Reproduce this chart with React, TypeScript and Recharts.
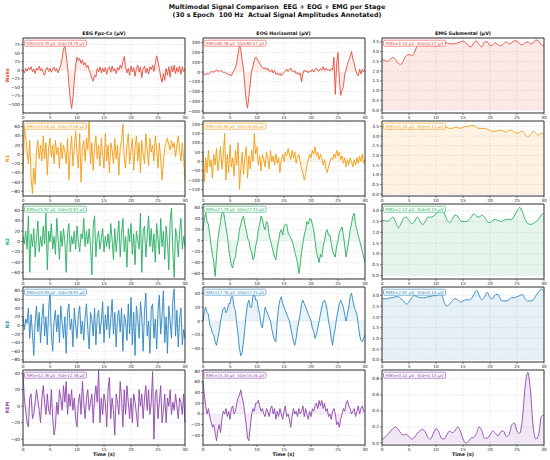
import React from "react"
import { AreaChart, Area, XAxis, YAxis, CartesianGrid, ReferenceArea } from "recharts"

const stages = ["Wake", "N1", "N2", "N3", "REM"]
const channels = ["EEG Fpz-Cz (µV)", "EOG Horizontal (µV)", "EMG Submental (µV)"]
const timeTicks = [0, 5, 10, 15, 20, 25, 30]

// EEG / EOG read every 0.25 s, EMG envelope every 0.5 s
const wakeEeg = [
  0, -8, 5, -3, 8, 2, 10, -5,
  3, -10, 6, 0, 12, -2, 5, -8,
  -15, 2, 8, -4, 6, -6, 3, 9,
  -3, 5, -8, 4, 15, 35, 62, 70,
  45, 10, -40, -85, -112, -80, -30, 15,
  38, 28, 35, 20, 30, 15, 22, 8,
  15, 0, -10, -25, -32, -15, -20, 5,
  -5, 10, -8, 6, -5, 8, -12, 4,
  10, -6, 12, -3, 5, -10, 8, 0,
  15, 5, 25, 40, 10, -8, 5, -15,
  12, -5, 8, -18, 5, 15, -6, 10,
  -22, 4, 12, -8, 6, -12, 10, 2,
  15, -4, 20, 42, 25, 5, -20, -35,
  -10, -30, 5, -15, 10, -20, 12, -5,
  15, -10, 8, -6, 12, -12, 10, -4,
  5,
]
const wakeEog = [
  -10, -25, -30, -15, -25, -10, 5, 0,
  0, 10, 20, 15, 5, 15, 10, -5,
  0, -15, -20, -30, -25, -40, -10, 20,
  40, 100, 180, 280, 230, 120, 30, -150,
  -290, -370, -250, -120, 10, 60, 120, 150,
  140, 110, 90, 60, 50, 30, 45, 20,
  40, 10, 0, 25, -10, 15, -25, -10,
  -35, -15, -40, -20, -5, 10, 30, 5,
  25, 40, 10, 0, 15, -20, -5, -30,
  -10, -100, -20, 20, 0, 15, -10, 10,
  5, 30, 0, 25, 40, 15, 10, 35,
  20, 55, 15, 40, 20, 25, 10, 35,
  20, 150, -230, 90, 200, -80, -240, -190,
  -150, -20, 20, 80, 120, 160, 210, 130,
  90, 20, -20, -40, 30, -20, 30, 0,
  20,
]
const wakeEmg = [
  2.6, 2.55, 2.5, 2.6, 2.7, 2.6, 2.4, 2.35, 2.55, 2.8,
  2.85, 2.8, 2.95, 3.3, 3.4, 3.35, 3.3, 3.3, 3.35, 3.3,
  3.3, 3.3, 3.45, 3.5, 3.45, 3.4, 3.4, 3.4, 3.45, 3.5,
  3.55, 3.45, 3.3, 3.25, 3.45, 3.55, 3.35, 3.25, 3.5, 3.5,
  3.3, 3.35, 3.45, 3.35, 3.3, 3.4, 3.5, 3.4, 3.45, 3.55,
  3.55, 3.4, 3.35, 3.45, 3.5, 3.4, 3.45, 3.6, 3.55, 3.35,
  3.3,
]

const n1Eeg = [
  -40, 60, 35, 10, -20, 30, -50, -85,
  -30, -65, 10, 30, -10, 20, -15, 40,
  -10, 25, -45, 15, 35, -5, 20, -20,
  30, 0, 15, -30, 25, -10, 20, 5,
  -20, 35, -55, 10, 40, -25, 15, 50,
  5, -30, 45, -60, 15, 30, -15, 35,
  10, 80, -20, 25, -35, 15, 40, -10,
  20, -25, 35, 0, -30, 45, -15, 20,
  -40, 25, 10, -20, 35, -10, 20, -45,
  15, 30, 65, -10, -30, 20, 45, -20,
  10, 35, -35, 15, 40, -15, 25, -40,
  30, 0, -20, 45, 10, -25, 35, 5,
  20, -15, 40, 10, -30, 25, -10, -55,
  -20, 15, 25, 35, 20, 10, 30, 15,
  25, -5, 20, 40, 10, -15, 25, -10,
  -55,
]
const n1Eog = [
  50, -110, 20, -60, 60, -30, 10, -90,
  40, -20, 70, -50, 10, 80, -40, 30,
  150, -100, 40, -60, 90, -30, 20, -80,
  60, -20, 100, -150, -40, 50, -70, 20,
  80, -90, 30, -40, 60, 0, 150, 40,
  80, -20, 30, -50, 40, 10, -30, 50,
  20, -40, 60, 0, 30, -20, 40, -10,
  20, -60, 10, 40, 0, 50, 30, 70,
  40, 10, 60, 20, 50, -10, 30, 40,
  0, -40, -60, -100, -70, -20, 10, 40,
  20, 60, 40, 80, 30, 50, 10, 40,
  20, -20, 10, -40, -60, -30, 0, 20,
  10, 40, 20, 60, 30, 50, 10, 30,
  -10, 20, -30, 10, -20, 20, 0, -30,
  10, -20, 20, -10, 30, 0, 40, -10,
  10,
]
const n1Emg = [
  3.4, 3.45, 3.4, 3.35, 3.4, 3.45, 3.4, 3.35, 3.4, 3.45,
  3.4, 3.35, 3.4, 3.45, 3.4, 3.35, 3.4, 3.45, 3.4, 3.4,
  3.4, 3.45, 3.45, 3.5, 3.45, 3.4, 3.4, 3.45, 3.45, 3.4,
  3.45, 3.5, 3.5, 3.55, 3.55, 3.45, 3.4, 3.4, 3.4, 3.35,
  3.3, 3.25, 3.25, 3.3, 3.3, 3.25, 3.2, 3.3, 3.3, 3.2,
  3.15, 3.2, 3.25, 3.1, 2.95, 3.1, 3.25, 3.15, 3.05, 3.15,
  3.1,
]

const n2Eeg = [
  10, -5, 20, -15, 50, -60, 15, -10,
  25, -30, 5, 40, -20, 10, -10, 30,
  -5, 55, -55, 20, 0, 35, -15, 10,
  -25, 45, 5, -35, 20, -10, 25, 0,
  -60, 15, 35, -20, 10, -5, 20, -15,
  30, 0, -20, 15, 5, 45, -10, 20,
  -5, 25, -10, -65, 30, 50, -30, 10,
  20, -15, 5, 25, -20, 10, -10, 15,
  -15, 35, 5, -35, 25, -20, 10, 40,
  -30, 15, 45, -20, 10, -50, 25, 0,
  35, -25, 15, -45, 20, 5, -15, 55,
  -60, 20, 30, -30, 10, 50, -10, 25,
  -20, 15, -40, 35, 5, -25, 45, -10,
  20, -35, 30, 0, -55, 40, 65, -20,
  -70, 25, 10, -30, 20, 45, -15, 10,
  -10,
]
const n2Eog = [
  20, 40, 52, 35, 30, 12, -10, -25,
  -40, -65, -30, 0, 20, 35, 50, 55,
  40, 25, 10, -15, -30, -45, -50, -35,
  -30, -10, 0, 20, 30, 40, 45, 30,
  20, 5, 0, -15, -20, -35, -30, -10,
  0, 20, 30, 45, 40, 25, 20, 35,
  30, 10, 0, -10, -20, -30, -35, -15,
  0, 15, 20, 10, 25, 30, 30, 15,
  10, 5, 0, -10, -20, -30, -40, -60,
  -45, -20, -5, 10, 20, 35, 30, 40,
  40, 30, 20, 0, -20, -30, -40, -25,
  -30, -10, 0, 15, 20, 10, 10, -5,
  -20, -25, -30, -10, 0, 15, 20, 25,
  10, -10, -30, -15, 0, 20, 30, 45,
  50, 30, 20, 10, 0, -10, -20, -30,
  -40,
]
const n2Emg = [
  2.55, 2.55, 2.5, 2.6, 2.7, 2.5, 2.2, 2.4, 2.65, 2.7,
  2.55, 2.4, 2.5, 2.7, 2.55, 2.35, 2.5, 2.7, 2.7, 2.75,
  2.85, 3.05, 3.15, 2.9, 2.6, 2.45, 2.6, 2.8, 2.75, 2.55,
  2.5, 2.5, 2.55, 2.7, 2.85, 2.75, 2.7, 2.8, 2.7, 2.5,
  2.45, 2.55, 2.6, 2.55, 2.5, 2.55, 2.6, 2.6, 2.6, 2.75,
  3.0, 3.15, 2.95, 2.6, 2.4, 2.37, 2.4, 2.5, 2.6, 2.8,
  2.9,
]

const n3Eeg = [
  20, -10, 15, 5, 40, -30, 25, -20,
  -70, 10, 45, -15, 30, -40, 15, 50,
  -25, 20, -45, 35, 80, -20, -60, 10,
  35, -15, 25, -40, 45, 5, -30, 20,
  -65, 30, 50, -10, 15, -50, 40, 0,
  -30, 25, 45, -20, 10, -35, 20, 50,
  -10, -55, 30, 15, -25, 40, -45, 20,
  35, -20, 10, 55, -40, 25, -10, 45,
  -30, 15, 60, -20, 30, -50, 20, 35,
  -15, 40, -60, 25, 10, -35, 50, -20,
  65, -45, 30, -70, 45, 15, -30, 55,
  20, -60, 35, 75, -25, 10, -65, 40,
  50, -30, 15, -55, 35, 70, -20, 25,
  80, -40, 20, -65, 45, 10, -30, 60,
  85, -25, 35, -50, 15, 40, -45, -10,
  -30,
]
const n3Eog = [
  0, 15, 20, 12, 10, -5, -10, -18,
  -20, -30, -35, -25, -15, 0, 10, 18,
  20, 12, 15, 25, 25, 35, 35, 20,
  15, -5, -20, -40, -50, -45, -30, -10,
  10, 25, 30, 20, 20, 35, 40, 30,
  30, 18, 10, -5, -10, 5, 20, 15,
  10, 5, 0, -12, -20, -28, -30, 0,
  20, 30, 35, 25, 20, 15, 10, 5,
  0, -10, -20, -30, -35, -25, -10, 0,
  10, 25, 30, 25, 20, 15, 10, 5,
  0, -10, -15, -25, -20, -10, 0, 10,
  20, 28, 30, 25, 15, 0, -10, -25,
  -35, -20, -10, 5, 15, 25, 30, 25,
  20, 8, 0, 10, 20, 35, 40, 30,
  20, 15, 10, -5, -20, -28, -30, -25,
  -20,
]
const n3Emg = [
  2.85, 2.85, 2.85, 2.9, 2.9, 2.95, 2.95, 2.85, 2.75, 2.6,
  2.7, 2.9, 3.0, 2.95, 2.9, 2.9, 2.9, 2.95, 2.95, 3.0,
  3.0, 3.05, 3.05, 2.7, 2.5, 2.6, 2.75, 2.85, 2.8, 2.7,
  2.75, 2.8, 2.8, 2.85, 3.05, 3.25, 3.0, 2.8, 2.95, 3.15,
  2.9, 2.85, 3.05, 3.05, 2.8, 2.75, 2.75, 2.8, 2.9, 2.9,
  2.95, 3.0, 3.05, 2.85, 2.75, 2.75, 2.8, 3.0, 3.15, 3.3,
  3.2,
]

const remEeg = [
  40, 10, -5, -20, -25, 10, 15, -15,
  -10, 5, 20, 8, -5, -20, 10, 25,
  5, -10, 15, -5, -10, 20, -15, -35,
  -25, 5, -10, 20, 10, -5, 25, 5,
  30, -10, 15, 0, 20, -5, 10, -15,
  -25, 5, 15, -10, 30, 5, -15, 10,
  20, -5, 5, 15, -20, 10, 25, 5,
  45, -20, 10, -10, 15, 5, -25, 20,
  35, -15, 10, -5, -35, 15, 5, -10,
  30, 10, -25, 20, -10, 25, 5, -15,
  10, -20, 15, 5, -10, -25, 20, 0,
  15, -15, 10, 25, -5, 20, -10, 5,
  42, -40, 15, 20, -15, 5, 25, -20,
  -5, 15, -20, 10, 0, 20, -10, 5,
  -5, 15, 0, -15, 10, 5, -10, 15,
  -20,
]
const remEog = [
  60, 35, 15, 0, 10, -5, -15, -25,
  -20, -35, -50, -30, -20, -35, -10, 5,
  0, 10, -5, 5, -10, 10, 15, 0,
  5, 20, 30, 35, 45, 30, 20, 0,
  -20, -45, -50, -25, 0, 10, 5, 20,
  20, 25, 15, 5, 10, 0, -5, 10,
  5, -5, 10, 15, 0, 10, -10, 5,
  -5, 10, 0, -10, 5, 15, -5, 0,
  -10, -25, -5, 10, 0, 5, -5, 10,
  0, 5, 15, -5, 10, 0, -10, 5,
  -5, 10, 5, 15, 20, 10, 25, 15,
  25, 10, 20, 5, 10, -5, 0, -10,
  5, 10, 0, -20, -15, -25, -10, 0,
  10, 5, 20, 25, 15, 10, 0, 5,
  10, -5, 5, 15, 0, 10, 15, 5,
  5,
]
const remEmg = [
  0.04, 0.07, 0.1, 0.14, 0.18, 0.2, 0.17, 0.12, 0.1, 0.11,
  0.08, 0.05, 0.07, 0.12, 0.15, 0.17, 0.14, 0.07, 0.05, 0.12,
  0.18, 0.14, 0.06, 0.05, 0.1, 0.15, 0.13, 0.15, 0.2, 0.15,
  0.05, 0.0, 0.02, 0.06, 0.07, 0.12, 0.2, 0.15, 0.06, 0.06,
  0.1, 0.15, 0.12, 0.09, 0.14, 0.15, 0.08, 0.1, 0.22, 0.25,
  0.15, 0.12, 0.3, 0.7, 0.88, 0.65, 0.2, 0.05, 0.1, 0.33,
  0.35,
]

const signals = [
  [wakeEeg, wakeEog, wakeEmg],
  [n1Eeg, n1Eog, n1Emg],
  [n2Eeg, n2Eog, n2Emg],
  [n3Eeg, n3Eog, n3Emg],
  [remEeg, remEog, remEmg],
]

const rmsValues = [
  [19.79, 80.38, 3.34],
  [23.58, 40.96, 3.35],
  [25.97, 27.79, 2.57],
  [29.93, 17.76, 2.91],
  [12.78, 15.33, 0.22],
]
const stdValues = [
  [19.79, 80.37, 0.37],
  [23.58, 40.96, 0.13],
  [25.97, 27.74, 0.19],
  [29.93, 17.74, 0.16],
  [12.78, 15.26, 0.15],
]

const yTicks = [
  [[-100, -75, -50, -25, 0, 25, 50, 75], [-400, -300, -200, -100, 0, 100, 200, 300], [0, 0.5, 1, 1.5, 2, 2.5, 3, 3.5]],
  [[-80, -60, -40, -20, 0, 20, 40, 60], [-150, -100, -50, 0, 50, 100, 150, 200], [0, 0.5, 1, 1.5, 2, 2.5, 3, 3.5]],
  [[-60, -40, -20, 0, 20, 40, 60], [-60, -40, -20, 0, 20, 40, 60], [0, 0.5, 1, 1.5, 2, 2.5, 3]],
  [[-80, -60, -40, -20, 0, 20, 40, 60, 80], [-40, -20, 0, 20, 40], [0, 0.5, 1, 1.5, 2, 2.5, 3]],
  [[-40, -20, 0, 20, 40], [-40, -20, 0, 20, 40, 60, 80], [0, 0.2, 0.4, 0.6, 0.8]],
]
const yDomains = [
  [[-125, 94], [-420, 348], [-0.15, 3.7]],
  [[-90, 72], [-186, 218], [-0.1, 3.78]],
  [[-73, 73], [-70, 67], [-0.16, 3.31]],
  [[-85, 89], [-59, 49], [-0.1, 3.4]],
  [[-47, 44], [-58, 82], [-0.025, 0.91]],
]

const stageColors = ["#e74c3c", "#f39c12", "#27ae60", "#2e86c1", "#8e44ad"]

const COL_LEFT = [23, 202.5, 382]
const PLOT_W = 162
const ROW_TOP0 = 38
const ROW_STEP = 83
const PLOT_H = 75
const Y_W = 24
const X_H = 10
const RIGHT_PAD = 5

const fmtInt = (v: number) => String(v).replace("-", "\u2212")
const fmtDec = (v: number) => v.toFixed(1)

function SignalPanel({ values, color, domain, ticks, left, top, isEmg }: any) {
  const data = values.map((v: number, i: number) => ({ t: (i * 30) / (values.length - 1), v }))
  const tickStyle = { fontSize: 4.3, fill: "#222", fontFamily: "DejaVu Sans" }
  return (
    <div style={{ position: "absolute", left: left - Y_W, top: top - 1 }}>
      <AreaChart
        width={Y_W + PLOT_W + RIGHT_PAD}
        height={PLOT_H + 1 + X_H}
        data={data}
        margin={{ top: 1, right: RIGHT_PAD, left: 0, bottom: 0 }}
      >
        <CartesianGrid stroke="#cfcfcf" strokeDasharray="1.5 1.5" strokeWidth={0.5} />
        <XAxis
          dataKey="t"
          type="number"
          domain={[0, 30]}
          ticks={timeTicks}
          interval={0}
          height={X_H}
          axisLine={false}
          tickLine={{ stroke: "#333", strokeWidth: 0.6 }}
          tickSize={2}
          tickMargin={0.5}
          tick={tickStyle}
        />
        <YAxis
          type="number"
          domain={domain}
          ticks={ticks}
          interval={0}
          allowDataOverflow
          width={Y_W}
          axisLine={false}
          tickLine={{ stroke: "#333", strokeWidth: 0.6 }}
          tickSize={2}
          tickMargin={1}
          tick={tickStyle}
          tickFormatter={isEmg ? fmtDec : fmtInt}
        />
        <Area
          type={isEmg ? "monotone" : "linear"}
          dataKey="v"
          stroke={color}
          strokeWidth={0.9}
          fill={color}
          fillOpacity={isEmg ? 0.12 : 0.1}
          dot={false}
          activeDot={false}
          isAnimationActive={false}
        />
        <ReferenceArea
          x1={0}
          x2={30}
          y1={domain[0]}
          y2={domain[1]}
          fill="none"
          stroke="#333"
          strokeWidth={1}
          ifOverflow="visible"
        />
      </AreaChart>
    </div>
  )
}

export default function App() {
  return (
    <div
      style={{
        position: "absolute",
        left: 0,
        top: 0,
        width: 550,
        height: 460,
        background: "#fff",
        fontFamily: "DejaVu Sans",
        overflow: "hidden",
      }}
    >
      {stages.map((stage, r) =>
        channels.map((ch, c) => (
          <SignalPanel
            key={stage + ch}
            values={signals[r][c]}
            color={stageColors[r]}
            domain={yDomains[r][c]}
            ticks={yTicks[r][c]}
            left={COL_LEFT[c]}
            top={ROW_TOP0 + r * ROW_STEP}
            isEmg={c === 2}
          />
        ))
      )}
      <svg
        width={550}
        height={460}
        style={{ position: "absolute", left: 0, top: 0, pointerEvents: "none" }}
        fontFamily="DejaVu Sans"
      >
        <text x={277} y={9} textAnchor="middle" fontSize={6.4} fontWeight="bold" fill="#111" style={{ whiteSpace: "pre" }}>
          Multimodal Signal Comparison  EEG + EOG + EMG per Stage
        </text>
        <text x={277} y={17} textAnchor="middle" fontSize={6.4} fontWeight="bold" fill="#111" style={{ whiteSpace: "pre" }}>
          (30 s Epoch  100 Hz  Actual Signal Amplitudes Annotated)
        </text>
        {channels.map((ch, c) => (
          <text key={ch} x={COL_LEFT[c] + PLOT_W / 2} y={34.5} textAnchor="middle" fontSize={4.8} fontWeight="bold" fill="#111">
            {ch}
          </text>
        ))}
        {stages.map((stage, r) => {
          const cy = ROW_TOP0 + r * ROW_STEP + PLOT_H / 2
          return (
            <text
              key={stage}
              x={8}
              y={cy}
              transform={`rotate(-90 8 ${cy})`}
              textAnchor="middle"
              dominantBaseline="middle"
              fontSize={4.8}
              fontWeight="bold"
              fill={stageColors[r]}
            >
              {stage}
            </text>
          )
        })}
        {stages.map((stage, r) =>
          channels.map((ch, c) => {
            const x = COL_LEFT[c] + 1.5
            const y = ROW_TOP0 + r * ROW_STEP + 2.2
            return (
              <g key={"ann" + stage + ch}>
                <rect x={x} y={y} width={62} height={6} rx={1.5} fill="#fff" fillOpacity={0.9} stroke={stageColors[r]} strokeWidth={0.6} />
                <text
                  x={x + 2}
                  y={y + 4.4}
                  fontSize={4.2}
                  fill={stageColors[r]}
                  textLength={58}
                  lengthAdjust="spacingAndGlyphs"
                  style={{ whiteSpace: "pre" }}
                >
                  {`RMS=${rmsValues[r][c].toFixed(2)} µV  Std=${stdValues[r][c].toFixed(2)} µV`}
                </text>
              </g>
            )
          })
        )}
        {channels.map((ch, c) => (
          <text key={"time" + ch} x={COL_LEFT[c] + PLOT_W / 2} y={456} textAnchor="middle" fontSize={4.8} fontWeight="bold" fill="#111">
            Time (s)
          </text>
        ))}
      </svg>
    </div>
  )
}
